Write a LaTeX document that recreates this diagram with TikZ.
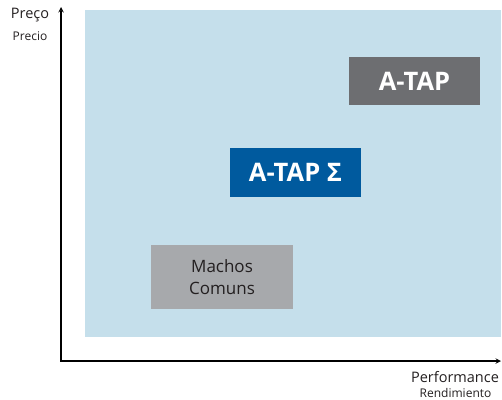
\documentclass[tikz,border=0pt]{standalone}
\usepackage{fontspec}
\setmainfont{Open Sans}
\usetikzlibrary{positioning}

\definecolor{chartbg}{HTML}{C5DFEB}
\definecolor{tapblue}{HTML}{005A9E}
\definecolor{tapgray}{HTML}{6D6E71}
\definecolor{machgray}{HTML}{A7A9AC}
\definecolor{inkdark}{HTML}{231F20}

\tikzset{
  toolbox/.style={inner sep=0pt, minimum width=131pt, minimum height=48pt,
    text=white, font=\fontsize{25.5}{28}\selectfont\bfseries},
  axislabel/.style={inner sep=0pt, text=inkdark, font=\fontsize{14.5}{16}\selectfont},
  sublabel/.style={inner sep=0pt, text=inkdark, font=\fontsize{12}{13}\selectfont},
}

\begin{document}
\begin{tikzpicture}[x=1pt,y=-1pt]
\useasboundingbox (0,0) rectangle (502,399);

%% Background field
\fill[chartbg] (85,10) rectangle (501,337);

%% Axis
\coordinate (origin) at (61,361);
\coordinate (ytip) at (61,7);
\coordinate (xtip) at (501,361);
\draw[line width=1.4pt,stealth-stealth] (ytip)--(origin)--(xtip);

%% Axis labels
\node[axislabel] (preco) at (30,15) {Preço};
\node[sublabel] (precio) at (30,36) {Precio};
\node[axislabel] (perf) at (455,377) {Performance};
\node[sublabel] (rend) at (455.5,392.5) {Rendimiento};

%% Products
\node[toolbox, fill=tapgray] (atap) at (414.5,81) {A-TAP};
\node[toolbox, fill=tapblue, minimum height=49pt] (atapsigma) at (295.5,172.5) {A-TAP Σ};
\node[fill=machgray, inner sep=0pt, minimum width=142pt, minimum height=64pt,
  text=inkdark, align=center, font=\fontsize{17}{22}\selectfont] (machos) at (222,277) {Machos\\Comuns};
\end{tikzpicture}
\end{document}
